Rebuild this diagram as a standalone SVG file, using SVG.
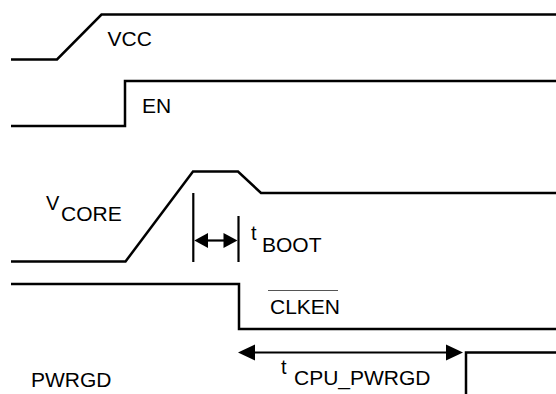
<svg xmlns="http://www.w3.org/2000/svg" width="556" height="394" viewBox="0 0 556 394">
<style>
.sig{fill:none;stroke:#000;stroke-width:2.5;stroke-linejoin:miter}
.dim{fill:none;stroke:#000;stroke-width:2.2}
.head{fill:#000;stroke:none}
.lbl{font-family:"Liberation Sans",Arial,sans-serif;font-size:21px;fill:#000}
.sm{font-family:"Liberation Sans",Arial,sans-serif;font-size:20px;fill:#000}
</style>
<g id="vcc">
<polyline class="sig" points="11,59.5 57,59.5 101.5,14.5 556,14.5"/>
<text class="lbl" x="107.5" y="46">VCC</text>
</g>
<g id="en">
<polyline class="sig" points="11,126 125,126 125,81 556,81"/>
<text class="lbl" x="142" y="112.5">EN</text>
</g>
<g id="vcore">
<polyline class="sig" points="11,261.5 125.5,261.5 193,171.5 238,171.5 261,193 556,193"/>
<text class="sm" x="46" y="210">V</text>
<text class="lbl" x="61" y="221">CORE</text>
</g>
<g id="clken">
<polyline class="sig" points="11,284 239,284 239,329 556,329"/>
<text class="lbl" x="270" y="314">CLKEN</text>
<line x1="268" y1="290.5" x2="338" y2="290.5" stroke="#555" stroke-width="1.2"/>
</g>
<g id="pwrgd">
<polyline class="sig" points="466,394 466,352.5 556,352.5"/>
<text class="lbl" x="31" y="387">PWRGD</text>
</g>
<g id="connectors">
<line class="dim" x1="193.3" y1="193" x2="193.3" y2="262"/>
<line class="dim" x1="238.5" y1="216" x2="238.5" y2="262"/>
<line class="dim" x1="200" y1="240.5" x2="232" y2="240.5"/>
<polygon class="head" points="194.3,240.5 208,233 208,248"/>
<polygon class="head" points="237.5,240.5 223.5,233 223.5,248"/>
<line class="dim" x1="248" y1="352.5" x2="453" y2="352.5"/>
<polygon class="head" points="238,352.5 255,344.5 255,360.5"/>
<polygon class="head" points="463,352.5 446,344.5 446,360.5"/>
</g>
<g id="timing-labels">
<text class="sm" x="251" y="240">t</text>
<text class="lbl" x="262" y="252">BOOT</text>
<text class="sm" x="281" y="374">t</text>
<text class="lbl" x="294" y="385">CPU_PWRGD</text>
</g>
</svg>
